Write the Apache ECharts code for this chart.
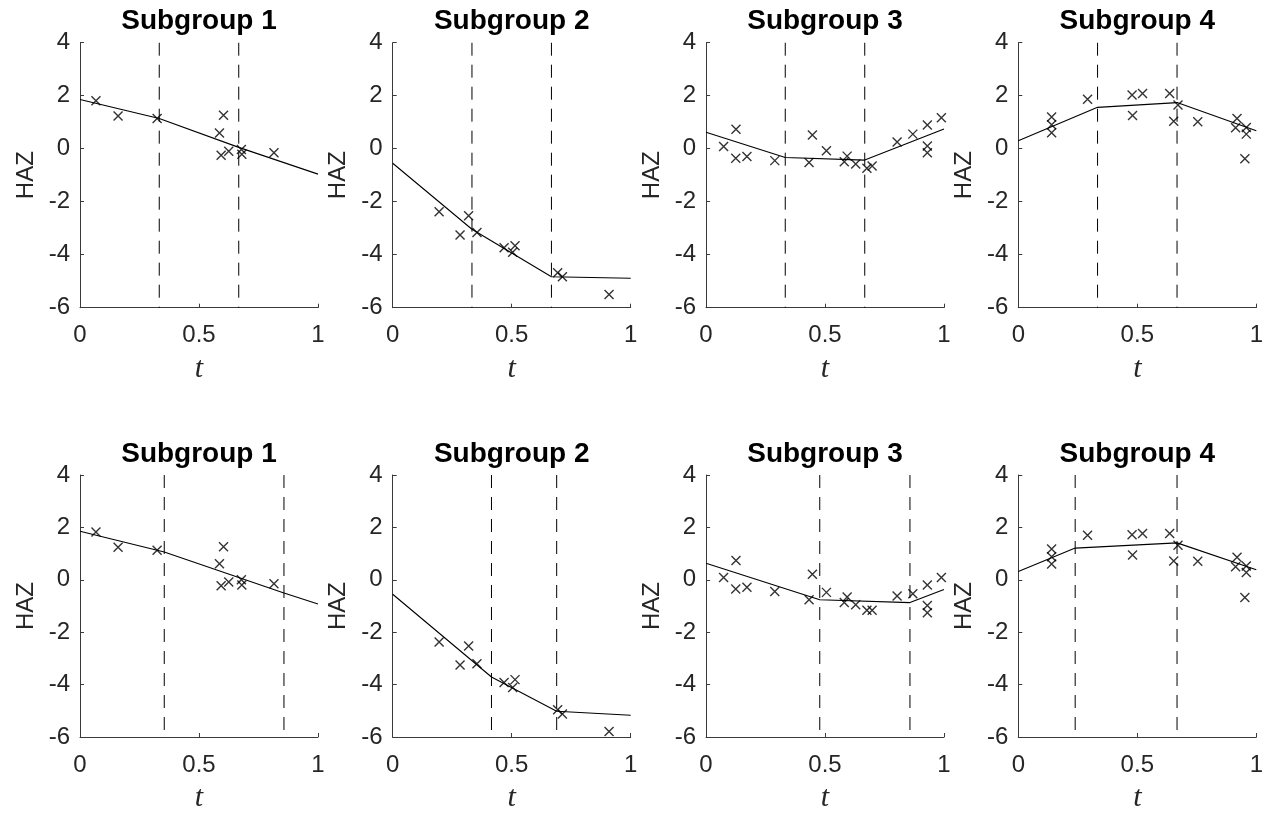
<!DOCTYPE html>
<html>
<head>
<meta charset="utf-8">
<script src="https://cdn.jsdelivr.net/npm/echarts@6/dist/echarts.min.js"></script>
<style>
html,body{margin:0;padding:0;background:#fff;}
#main{width:1272px;height:814px;}
</style>
</head>
<body>
<div id="main"></div>
<script>
// ---------- data ----------
const titles = ['Subgroup 1','Subgroup 2','Subgroup 3','Subgroup 4','Subgroup 1','Subgroup 2','Subgroup 3','Subgroup 4'];
const xTicks = [0, 0.5, 1];
const yTicks = [-6, -4, -2, 0, 2, 4];

// Subgroup 1 observations
const sg1T = [0.067,0.160,0.324,0.603,0.586,0.593,0.625,0.678,0.680,0.815];
const sg1Y = [1.81,1.23,1.14,1.26,0.59,-0.25,-0.10,-0.03,-0.21,-0.15];
const sg1Yb = [1.82,1.24,1.13,1.26,0.61,-0.23,-0.08,0.00,-0.20,-0.15];
// Subgroup 2 observations
const sg2T = [0.195,0.283,0.319,0.354,0.468,0.504,0.514,0.693,0.713,0.909];
const sg2Y = [-2.38,-3.26,-2.53,-3.16,-3.74,-3.91,-3.66,-4.68,-4.83,-5.50];
const sg2Yb = [-2.37,-3.25,-2.53,-3.20,-3.92,-4.11,-3.81,-4.96,-5.12,-5.79];
// Subgroup 3 observations
const sg3T = [0.074,0.126,0.125,0.172,0.289,0.447,0.433,0.506,0.581,0.593,0.629,0.676,0.698,0.803,0.869,0.930,0.930,0.930,0.989];
const sg3Y = [0.08,0.73,-0.36,-0.29,-0.45,0.52,-0.52,-0.08,-0.49,-0.28,-0.58,-0.74,-0.65,0.25,0.55,0.89,0.10,-0.15,1.17];
const sg3Yb = [0.09,0.74,-0.35,-0.28,-0.45,0.21,-0.76,-0.48,-0.87,-0.66,-0.95,-1.16,-1.16,-0.62,-0.53,-0.20,-0.98,-1.26,0.09];
// Subgroup 4 observations
const sg4T = [0.140,0.140,0.140,0.291,0.478,0.522,0.480,0.636,0.671,0.653,0.754,0.919,0.913,0.958,0.958,0.952];
const sg4Y = [1.20,0.90,0.60,1.87,2.03,2.08,1.25,2.08,1.65,1.04,1.02,1.14,0.79,0.80,0.55,-0.38];
const sg4Yb = [1.18,0.88,0.60,1.70,1.72,1.77,0.95,1.77,1.32,0.72,0.71,0.86,0.50,0.53,0.28,-0.68];

// knots (dashed lines)
const knots1 = [0.333,0.667], knots2 = [0.333,0.667], knots3 = [0.333,0.667], knots4 = [0.333,0.667];
const knots5 = [0.354,0.857], knots6 = [0.415,0.689], knots7 = [0.478,0.857], knots8 = [0.239,0.667];
// fitted piecewise linear values at [0, knot1, knot2, 1]
const fit1 = [1.86,1.14,0.05,-0.96];
const fit2 = [-0.55,-3.04,-4.83,-4.89];
const fit3 = [0.62,-0.33,-0.43,0.74];
const fit4 = [0.30,1.56,1.74,0.68];
const fit5 = [1.85,1.06,-0.50,-0.92];
const fit6 = [-0.55,-3.71,-5.02,-5.17];
const fit7 = [0.63,-0.76,-0.87,-0.37];
const fit8 = [0.32,1.21,1.41,0.38];

const panels = [
  {t: sg1T, y: sg1Y,  k: knots1, f: fit1},
  {t: sg2T, y: sg2Y,  k: knots2, f: fit2},
  {t: sg3T, y: sg3Y,  k: knots3, f: fit3},
  {t: sg4T, y: sg4Y,  k: knots4, f: fit4},
  {t: sg1T, y: sg1Yb, k: knots5, f: fit5},
  {t: sg2T, y: sg2Yb, k: knots6, f: fit6},
  {t: sg3T, y: sg3Yb, k: knots7, f: fit7},
  {t: sg4T, y: sg4Yb, k: knots8, f: fit8}
];

// ---------- layout ----------
const colLeft = [80, 392.7, 706, 1018.3];
const rowTop = [42.7, 475];
const gW = 238, gH = 265;
const axisColor = '#3a3a3a';
const textColor = '#262626';

const grids = [], xAxes = [], yAxes = [], series = [], graphics = [];
panels.forEach((p, i) => {
  const c = i % 4, r = Math.floor(i / 4);
  grids.push({left: colLeft[c], top: rowTop[r], width: gW, height: gH, containLabel: false});
  xAxes.push({
    gridIndex: i, type: 'value', min: xTicks[0], max: xTicks[xTicks.length-1], interval: 0.5,
    axisLine: {show: true, onZero: false, lineStyle: {color: axisColor, width: 1}},
    axisTick: {show: true, inside: true, length: 4, lineStyle: {color: axisColor}},
    splitLine: {show: false},
    axisLabel: {fontSize: 24, color: textColor, margin: 16, fontFamily: 'Liberation Sans, Arial', showMinLabel: true, showMaxLabel: true},
    name: 't', nameLocation: 'middle', nameGap: 46,
    nameTextStyle: {fontSize: 30, fontStyle: 'italic', fontFamily: 'Liberation Serif, DejaVu Serif, serif', color: textColor}
  });
  yAxes.push({
    gridIndex: i, type: 'value', min: yTicks[0], max: yTicks[yTicks.length-1], interval: 2,
    axisLine: {show: true, lineStyle: {color: axisColor, width: 1}},
    axisTick: {show: true, inside: true, length: 4, lineStyle: {color: axisColor}},
    splitLine: {show: false},
    axisLabel: {fontSize: 24, color: textColor, margin: 10, fontFamily: 'Liberation Sans, Arial', showMinLabel: true, showMaxLabel: true},
    name: 'HAZ', nameLocation: 'middle', nameGap: 42, nameRotate: 90,
    nameTextStyle: {fontSize: 24, color: textColor, fontFamily: 'Liberation Sans, Arial'}
  });
  // dashed knot lines
  p.k.forEach(kv => {
    series.push({
      type: 'line', xAxisIndex: i, yAxisIndex: i, silent: true, showSymbol: false, symbol: 'none',
      data: [[kv, yTicks[yTicks.length-1]], [kv, yTicks[0]]],
      lineStyle: {color: '#000', width: 1, type: [13, 9]}, z: 1
    });
  });
  // fitted piecewise line
  const fx = [0, p.k[0], p.k[1], 1];
  series.push({
    type: 'line', xAxisIndex: i, yAxisIndex: i, silent: true, showSymbol: false, symbol: 'none',
    data: fx.map((x, j) => [x, p.f[j]]),
    lineStyle: {color: '#000', width: 1.1}, z: 2
  });
  // observations
  series.push({
    type: 'scatter', xAxisIndex: i, yAxisIndex: i, silent: true,
    symbol: 'path://M0,0L10,10M10,0L0,10', symbolSize: 9,
    data: p.t.map((x, j) => [x, p.y[j]]),
    itemStyle: {color: 'none', borderColor: '#000', borderWidth: 1.4}, z: 3
  });
  graphics.push({
    type: 'text', x: colLeft[c] + gW / 2, y: rowTop[r] - 21,
    style: {text: titles[i], fontSize: 28, fontWeight: 'bold', fill: '#000',
            fontFamily: 'Liberation Sans, Arial', align: 'center', verticalAlign: 'middle'}
  });
});

const chart = echarts.init(document.getElementById('main'), null, {renderer: 'canvas'});
chart.setOption({
  animation: false,
  backgroundColor: '#fff',
  grid: grids, xAxis: xAxes, yAxis: yAxes, series: series,
  graphic: graphics
});
</script>
</body>
</html>
